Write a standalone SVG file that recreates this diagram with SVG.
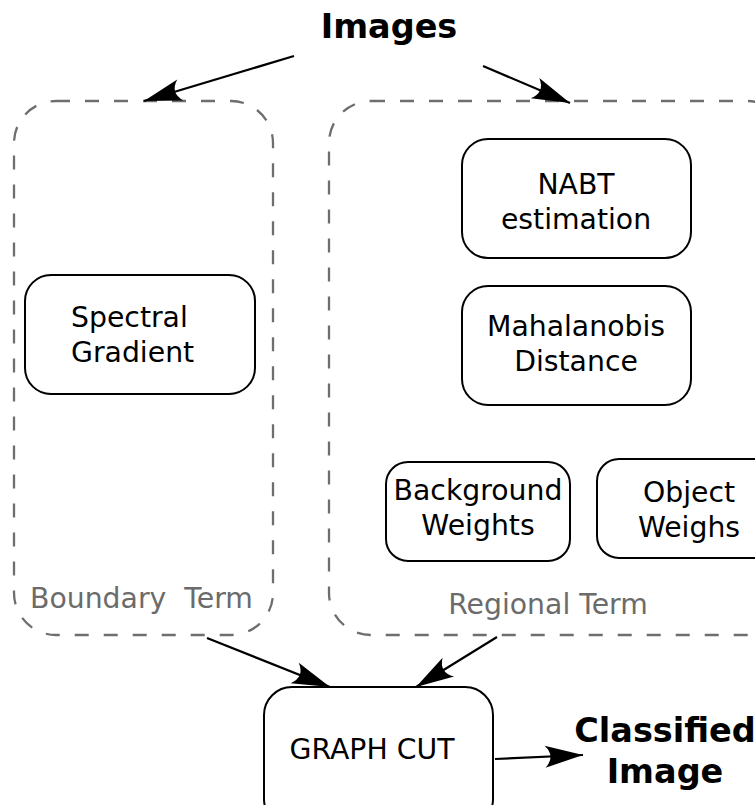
<svg xmlns="http://www.w3.org/2000/svg" width="755" height="805" viewBox="0 0 755 805">
<style>
.node{fill:#fff;stroke:#000;stroke-width:2}
.group{fill:none;stroke:#6e6e6e;stroke-width:2.3;stroke-dasharray:14 15}
.t{font-family:"DejaVu Sans",sans-serif;font-size:28.3px;fill:#000;text-anchor:middle}
.g{font-family:"DejaVu Sans",sans-serif;font-size:28.3px;fill:#6b6b6b;text-anchor:middle}
.b{font-family:"DejaVu Sans",sans-serif;font-size:33.5px;font-weight:bold;fill:#000;text-anchor:middle}
.edge{fill:none;stroke:#000;stroke-width:2.2}
</style>
<defs>
<marker id="ah" markerUnits="userSpaceOnUse" viewBox="-40 -13 42 26" refX="0" refY="0" markerWidth="42" markerHeight="26" orient="auto">
<path d="M0,0 L-38,-11 Q-27,0 -38,11 Z" fill="#000"/>
</marker>
</defs>
<rect width="755" height="805" fill="#fff"/>
<g id="boundary-term">
<rect class="group" x="14" y="101" width="259" height="534" rx="42"/>
<text class="g" x="30" y="608" style="text-anchor:start" xml:space="preserve">Boundary  Term</text>
</g>
<g id="regional-term">
<rect class="group" x="329" y="101" width="460" height="534" rx="42"/>
<text class="g" x="548" y="614">Regional Term</text>
</g>
<g id="images">
<text class="b" x="389" y="38">Images</text>
</g>
<g id="spectral-gradient">
<rect class="node" x="25" y="275" width="230" height="119" rx="26"/>
<text class="t" x="71" y="327" style="text-anchor:start">Spectral</text>
<text class="t" x="71" y="362" style="text-anchor:start">Gradient</text>
</g>
<g id="nabt">
<rect class="node" x="462" y="139" width="229" height="119" rx="26"/>
<text class="t" x="576" y="194">NABT</text>
<text class="t" x="576" y="229">estimation</text>
</g>
<g id="mahalanobis">
<rect class="node" x="462" y="286" width="229" height="119" rx="26"/>
<text class="t" x="576" y="336">Mahalanobis</text>
<text class="t" x="576" y="371">Distance</text>
</g>
<g id="background-weights">
<rect class="node" x="386" y="462" width="184" height="99" rx="22"/>
<text class="t" x="478" y="500">Background</text>
<text class="t" x="478" y="535">Weights</text>
</g>
<g id="object-weighs">
<rect class="node" x="597" y="459" width="190" height="99" rx="22"/>
<text class="t" x="689" y="502">Object</text>
<text class="t" x="689" y="537">Weighs</text>
</g>
<g id="graph-cut">
<rect class="node" x="264" y="687" width="229" height="140" rx="28"/>
<text class="t" x="372" y="759">GRAPH CUT</text>
</g>
<g id="classified-image">
<text class="b" x="665" y="742">Classified</text>
<text class="b" x="665" y="783">Image</text>
</g>
<g id="connectors">
<line class="edge" x1="294" y1="56" x2="144" y2="101" marker-end="url(#ah)"/>
<line class="edge" x1="483" y1="66" x2="570" y2="103" marker-end="url(#ah)"/>
<line class="edge" x1="207" y1="638" x2="330" y2="687" marker-end="url(#ah)"/>
<line class="edge" x1="497" y1="637" x2="416" y2="687" marker-end="url(#ah)"/>
<line class="edge" x1="495" y1="759" x2="583" y2="755" marker-end="url(#ah)"/>
</g>
</svg>
